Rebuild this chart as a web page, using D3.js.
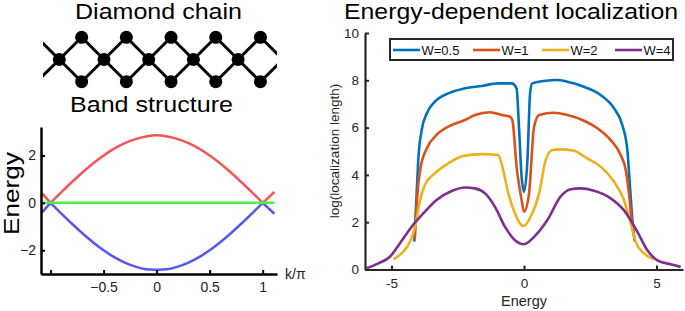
<!DOCTYPE html>
<html>
<head>
<meta charset="utf-8">
<script src="https://cdn.jsdelivr.net/npm/d3@7"></script>
<style>
body { margin: 0; background: #fff; }
text { font-family: "Liberation Sans", Arial, sans-serif; }
</style>
</head>
<body>
<div id="chart"></div>
<script>
// band structure of the diamond chain
var bandK = [-1.08, -1, -0.9, -0.8, -0.7, -0.6, -0.5, -0.4, -0.3, -0.2, -0.1, 0,
             0.1, 0.2, 0.3, 0.4, 0.5, 0.6, 0.7, 0.8, 0.9, 1, 1.11];
var bandUpper = [0.40, 0, 0.44, 0.87, 1.28, 1.66, 2.0, 2.29, 2.52, 2.69, 2.80, 2.85,
                 2.80, 2.69, 2.52, 2.29, 2.0, 1.66, 1.28, 0.87, 0.44, 0, 0.46];
var bandLower = [-0.40, 0, -0.44, -0.87, -1.28, -1.66, -2.0, -2.29, -2.52, -2.69, -2.80, -2.82,
                 -2.80, -2.69, -2.52, -2.29, -2.0, -1.66, -1.28, -0.87, -0.44, 0, -0.46];
var flatK = [-1.09, 1.11];
var flatE = [0, 0];
var bandTicksX = [-1, -0.5, 0, 0.5, 1];
var bandTickLabelsX = ["", "\u22120.5", "0", "0.5", "1"];
var bandTicksY = [-2, 0, 2];
var bandTickLabelsY = ["\u22122", "0", "2"];

// diamond chain unit cells
var chainCells = [-1, 0, 1, 2, 3, 4, 5];
var chainShown = [0, 1, 2, 3, 4];

// localization length vs energy
var w05E = [-4.14, -4.05, -3.99, -3.86, -3.67, -3.36, -2.86, -2.23, -1.6, -0.97, -0.46, -0.28, -0.19, -0.09, 0,
            0.13, 0.23, 0.31, 0.75, 1.26, 1.64, 2.26, 2.89, 3.4, 3.71, 3.9, 4.0, 4.09, 4.18];
var w05L = [1.18, 3.22, 4.63, 5.9, 6.6, 7.1, 7.45, 7.66, 7.76, 7.87, 7.87, 7.66, 6.04, 3.92, 3.29,
            4.63, 7.45, 7.87, 7.97, 8.01, 7.94, 7.73, 7.38, 6.81, 6.11, 5.05, 3.5, 2.09, 1.18];
var w1E = [-4.12, -4.02, -3.92, -3.67, -3.3, -2.73, -2.23, -1.85, -1.28, -0.84, -0.53, -0.44, -0.28, -0.09, 0,
           0.19, 0.38, 0.57, 1.13, 1.64, 2.2, 2.77, 3.27, 3.65, 3.84, 3.96, 4.05, 4.15];
var w1L = [1.3, 3.22, 4.21, 5.12, 5.69, 6.11, 6.32, 6.53, 6.65, 6.53, 6.46, 6.32, 4.35, 2.94, 2.44,
           3.22, 6.04, 6.53, 6.63, 6.53, 6.32, 5.97, 5.47, 4.84, 4.21, 3.22, 2.23, 1.38];
var w2E = [-4.93, -4.62, -4.3, -4.11, -3.92, -3.74, -3.36, -2.86, -2.3, -1.6, -0.97, -0.82, -0.59, -0.34, -0.09, 0,
           0.25, 0.57, 0.82, 1.07, 1.38, 1.89, 2.33, 2.89, 3.4, 3.77, 4.03, 4.21, 4.53, 4.91];
var w2L = [0.43, 0.68, 1.18, 1.81, 2.94, 3.57, 4.07, 4.49, 4.8, 4.88, 4.84, 4.35, 3.22, 2.37, 1.88, 1.85,
           2.23, 3.22, 4.63, 5.05, 5.08, 5.02, 4.73, 4.35, 3.71, 2.94, 1.95, 1.18, 0.68, 0.43];
var w4E = [-5.94, -5.5, -5.06, -4.68, -4.24, -3.8, -3.3, -2.73, -2.23, -1.85, -1.47, -1.1, -0.72, -0.34, 0,
           0.38, 0.88, 1.38, 1.76, 2.14, 2.64, 3.27, 3.77, 4.28, 4.65, 5.03, 5.53, 5.91];
var w4L = [0.05, 0.26, 0.54, 1.11, 1.81, 2.37, 2.94, 3.32, 3.47, 3.43, 3.22, 2.66, 1.81, 1.24, 1.07,
           1.38, 2.09, 3.08, 3.39, 3.43, 3.33, 3.01, 2.51, 1.59, 0.82, 0.39, 0.22, 0.11];
var legendLabels = ["W=0.5", "W=1", "W=2", "W=4"];
var locTicksX = [-5, 0, 5];
var locTicksY = [0, 2, 4, 6, 8, 10];

var svg = d3.select("#chart").append("svg")
    .attr("width", 685)
    .attr("height", 311);

// ---------- diamond chain sketch ----------
var cx = d3.scaleLinear().domain([0, 1]).range([59.3, 104]);
var rowY = {mid: 59.5, top: 37.3, bot: 81.7};

svg.append("defs").append("clipPath").attr("id", "chainClip")
    .append("rect").attr("x", 43).attr("y", 20).attr("width", 234).attr("height", 80);

var chain = svg.append("g").attr("clip-path", "url(#chainClip)");
var bonds = [];
chainCells.forEach(function(i) {
    var m = [cx(i), rowY.mid], t = [cx(i + 0.5), rowY.top], b = [cx(i + 0.5), rowY.bot], n = [cx(i + 1), rowY.mid];
    bonds.push([m, t], [t, n], [m, b], [b, n]);
});
chain.selectAll("line").data(bonds).enter().append("line")
    .attr("x1", function(d) { return d[0][0]; })
    .attr("y1", function(d) { return d[0][1]; })
    .attr("x2", function(d) { return d[1][0]; })
    .attr("y2", function(d) { return d[1][1]; })
    .style("stroke", "#000")
    .style("stroke-width", 3);

var sites = [];
chainShown.forEach(function(i) {
    sites.push([cx(i), rowY.mid], [cx(i + 0.5), rowY.top], [cx(i + 0.5), rowY.bot]);
});
chain.selectAll("circle").data(sites).enter().append("circle")
    .attr("cx", function(d) { return d[0]; })
    .attr("cy", function(d) { return d[1]; })
    .attr("r", 6.5)
    .style("fill", "#000");

svg.append("text").attr("x", 75).attr("y", 18.5)
    .attr("textLength", 167).attr("lengthAdjust", "spacingAndGlyphs")
    .style("font-size", "22px").text("Diamond chain");
svg.append("text").attr("x", 70).attr("y", 111.5)
    .attr("textLength", 163).attr("lengthAdjust", "spacingAndGlyphs")
    .style("font-size", "22.5px").text("Band structure");

// ---------- band structure ----------
var bx = d3.scaleLinear().domain([-1.09, 1.135]).range([41, 277]);
var by = d3.scaleLinear().domain([-3, 3.2]).range([274, 127]);

function splitAtZeros(k, e) {
    var segs = [], cur = [];
    k.forEach(function(kk, i) {
        cur.push([kk, e[i]]);
        if (e[i] === 0 && cur.length > 1) {
            segs.push(cur);
            cur = [[kk, e[i]]];
        }
    });
    if (cur.length > 1) segs.push(cur);
    return segs;
}

var bandLine = d3.line()
    .x(function(d) { return bx(d[0]); })
    .y(function(d) { return by(d[1]); })
    .curve(d3.curveCatmullRom);

var bandG = svg.append("g");
[[bandUpper, "#f25757"], [bandLower, "#5757f0"]].forEach(function(b) {
    bandG.selectAll(null).data(splitAtZeros(bandK, b[0])).enter().append("path")
        .attr("d", bandLine)
        .style("fill", "none")
        .style("stroke", b[1])
        .style("stroke-width", 2.5);
});
bandG.append("path")
    .attr("d", bandLine(flatK.map(function(k, i) { return [k, flatE[i]]; })))
    .style("fill", "none")
    .style("stroke", "#4eec4e")
    .style("stroke-width", 2.5);

var bAxX = svg.append("g")
    .attr("transform", "translate(0,274)")
    .call(d3.axisBottom(bx).tickValues(bandTicksX)
        .tickFormat(function(d, i) { return bandTickLabelsX[i]; })
        .tickSizeInner(-4).tickSizeOuter(0).tickPadding(8));
var bAxY = svg.append("g")
    .attr("transform", "translate(41,0)")
    .call(d3.axisLeft(by).tickValues(bandTicksY)
        .tickFormat(function(d, i) { return bandTickLabelsY[i]; })
        .tickSizeInner(-4).tickSizeOuter(0).tickPadding(5));
[bAxX, bAxY].forEach(function(ax) {
    ax.select(".domain").style("stroke", "#000").style("stroke-width", 2.5);
    ax.selectAll(".tick line").style("stroke", "#000").style("stroke-width", 2);
    ax.selectAll(".tick text").style("font-size", "14px").style("fill", "#222")
        .style("font-family", "'Liberation Sans', Arial, sans-serif");
});

svg.append("text").attr("x", 285).attr("y", 279)
    .style("font-size", "14px").style("fill", "#222").text("k/\u03c0");
svg.append("text")
    .attr("transform", "translate(19,193.5) rotate(-90)")
    .attr("text-anchor", "middle")
    .attr("textLength", 83).attr("lengthAdjust", "spacingAndGlyphs")
    .style("font-size", "22px").text("Energy");

// ---------- localization length ----------
var lx = d3.scaleLinear().domain([-6, 6]).range([365, 683]);
var ly = d3.scaleLinear().domain([0, 10]).range([269.5, 33]);

var series = [
    {name: legendLabels[0], e: w05E, l: w05L, color: "#0072bd"},
    {name: legendLabels[1], e: w1E, l: w1L, color: "#d95319"},
    {name: legendLabels[2], e: w2E, l: w2L, color: "#edb120"},
    {name: legendLabels[3], e: w4E, l: w4L, color: "#7e2f8e"}
];

var locLine = d3.line()
    .x(function(d) { return lx(d[0]); })
    .y(function(d) { return ly(d[1]); })
    .curve(d3.curveMonotoneX);

svg.append("g").selectAll("path")
    .data(series)
    .enter().append("path")
    .attr("d", function(s) { return locLine(s.e.map(function(e, i) { return [e, s.l[i]]; })); })
    .style("fill", "none")
    .style("stroke", function(s) { return s.color; })
    .style("stroke-width", 2.6)
    .style("stroke-linejoin", "round");

var lAxX = svg.append("g")
    .attr("transform", "translate(0,269.5)")
    .call(d3.axisBottom(lx).tickValues(locTicksX).tickFormat(function(d) { return String(d); })
        .tickSizeInner(-4).tickSizeOuter(0).tickPadding(9));
var lAxY = svg.append("g")
    .attr("transform", "translate(365,0)")
    .call(d3.axisLeft(ly).tickValues(locTicksY).tickFormat(function(d) { return String(d); })
        .tickSizeInner(-4).tickSizeOuter(0).tickPadding(6));
[lAxX, lAxY].forEach(function(ax) {
    ax.select(".domain").style("stroke", "#262626").style("stroke-width", 2.2);
    ax.selectAll(".tick line").style("stroke", "#262626").style("stroke-width", 2);
    ax.selectAll(".tick text").style("font-size", "13.5px").style("fill", "#262626")
        .style("font-family", "'Liberation Sans', Arial, sans-serif");
});

svg.append("text").attr("x", 524).attr("y", 306)
    .attr("text-anchor", "middle")
    .style("font-size", "14.5px").style("fill", "#262626").text("Energy");
svg.append("text")
    .attr("transform", "translate(339,151) rotate(-90)")
    .attr("text-anchor", "middle")
    .style("font-size", "13.5px").style("fill", "#262626").text("log(localization length)");

svg.append("text").attr("x", 344).attr("y", 19)
    .attr("textLength", 334).attr("lengthAdjust", "spacingAndGlyphs")
    .style("font-size", "22px").text("Energy-dependent localization");

// legend
var legX = [393, 473, 542, 615];
svg.append("rect")
    .attr("x", 390).attr("y", 39).attr("width", 283).attr("height", 21)
    .style("fill", "#fff").style("stroke", "#262626").style("stroke-width", 2);
var leg = svg.append("g").selectAll("g")
    .data(series)
    .enter().append("g")
    .attr("transform", function(s, i) { return "translate(" + legX[i] + ",50)"; });
leg.append("line")
    .attr("x1", 0).attr("x2", 27)
    .style("stroke", function(s) { return s.color; })
    .style("stroke-width", 2.6);
leg.append("text")
    .attr("x", 28.5).attr("y", 4.6)
    .style("font-size", "13px").style("fill", "#111")
    .text(function(s) { return s.name; });
</script>
</body>
</html>
